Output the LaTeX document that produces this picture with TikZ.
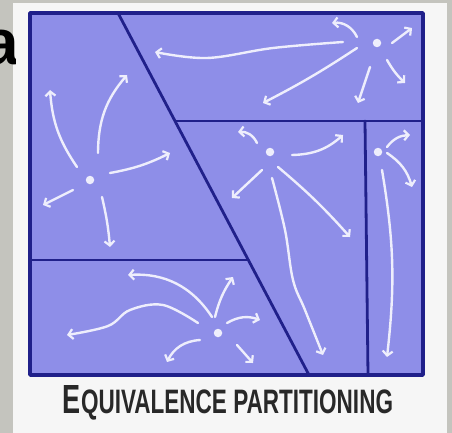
\documentclass[tikz,border=0pt]{standalone}
\usepackage{fontspec}
\setsansfont{Liberation Sans}
\usetikzlibrary{arrows.meta}
\definecolor{bggray}{RGB}{196,196,190}
\definecolor{panel}{RGB}{246,246,246}
\definecolor{lav}{RGB}{142,142,232}
\definecolor{navy}{RGB}{32,32,138}
\definecolor{chalk}{RGB}{238,238,252}
\definecolor{ink}{RGB}{40,40,40}
\tikzset{
  border/.style={draw=navy,line width=3.4pt,line join=round},
  divider/.style={draw=navy,line width=2.8pt,line cap=round},
  arr/.style={draw=chalk,line width=2.4pt,line cap=round,-{Straight Barb[length=4.5pt,width=10pt,line width=2.2pt]}},
  origin/.style={circle,fill=chalk,inner sep=0pt,minimum size=8.5pt},
}
\begin{document}
\begin{tikzpicture}[x=1pt,y=-1pt]
\useasboundingbox (0,0) rectangle (452,433);
\fill[bggray] (0,0) rectangle (452,433);
\fill[panel] (13,3) rectangle (447,433);
% partial letter from the slide title
\begin{scope}
  \clip (0,20) rectangle (15,75);
  \node[font=\sffamily\bfseries\fontsize{64}{64}\selectfont,anchor=base east,inner sep=0pt] (ttl) at (19,65) {a};
\end{scope}
% box
\coordinate (tl) at (30,13);
\coordinate (tr) at (423,13);
\coordinate (br) at (423,375);
\coordinate (bl) at (30,375);
\fill[lav] (tl) -- (tr) -- (br) -- (bl) -- cycle;
\coordinate (dtop) at (118,13);
\coordinate (dbot) at (309,375);
\coordinate (hmid) at (176,121);
\coordinate (hright) at (423,121);
\coordinate (vtop) at (365,121);
\coordinate (vbot) at (368,375);
\coordinate (hleft) at (30,260);
\coordinate (hdiag) at (248,260);
\draw[divider] (dtop) -- (dbot);
\draw[divider] (hmid) -- (hright);
\draw[divider] (vtop) -- (vbot);
\draw[divider] (hleft) -- (hdiag);
\draw[border] (tl) -- (tr) -- (br) -- (bl) -- cycle;
% origins
\node[origin] (pa) at (90,180) {};
\node[origin] (pb) at (377,43) {};
\node[origin] (pc) at (270,152) {};
\node[origin] (pd) at (378,152) {};
\node[origin] (pe) at (218,333) {};
% left region
\draw[arr] (77,167) to[bend left=15] (50,90);
\draw[arr] (98,153) to[bend left=20] (127,75);
\draw[arr] (110,173) to[bend right=8] (170,153);
\draw[arr] (73,190) -- (43,205);
\draw[arr] (102,197) to[bend left=4] (110,247);
% top right region
\draw[arr] plot[smooth,tension=0.6] coordinates {(343,42) (273,48) (207,58) (155,52)};
\draw[arr] (357,48) to[bend left=3] (263,103);
\draw[arr] (357,37) to[bend right=35] (332,23);
\draw[arr] (392,43) -- (412,28);
\draw[arr] (387,60) to[bend right=8] (405,83);
\draw[arr] (370,67) -- (358,103);
% middle region
\draw[arr] (257,143) to[bend right=35] (238,132);
\draw[arr] (292,155) to[bend right=20] (343,135);
\draw[arr] (262,170) -- (232,198);
\draw[arr] (278,167) to[bend left=4] (350,237);
\draw[arr] plot[smooth,tension=0.6] coordinates {(272,178) (285,230) (293,280) (305,310) (323,355)};
% narrow right region
\draw[arr] (387,147) to[bend left=25] (410,135);
\draw[arr] (387,153) to[bend left=20] (412,187);
\draw[arr] (382,170) to[bend left=8] (387,357);
% bottom left region
\draw[arr] (212,317) to[bend right=30] (128,275);
\draw[arr] plot[smooth,tension=0.6] coordinates {(198,323) (163,305) (130,310) (108,326) (67,335)};
\draw[arr] (215,317) to[bend left=10] (233,277);
\draw[arr] (227,323) to[bend left=25] (260,320);
\draw[arr] (200,340) to[bend right=30] (167,362);
\draw[arr] (237,345) -- (253,363);
% caption
\node[text=ink,inner sep=0pt] (cap) at (228,403)
  {\resizebox{330pt}{28pt}{\sffamily\bfseries {\large E}QUIVALENCE PARTITIONING}};
\end{tikzpicture}
\end{document}
